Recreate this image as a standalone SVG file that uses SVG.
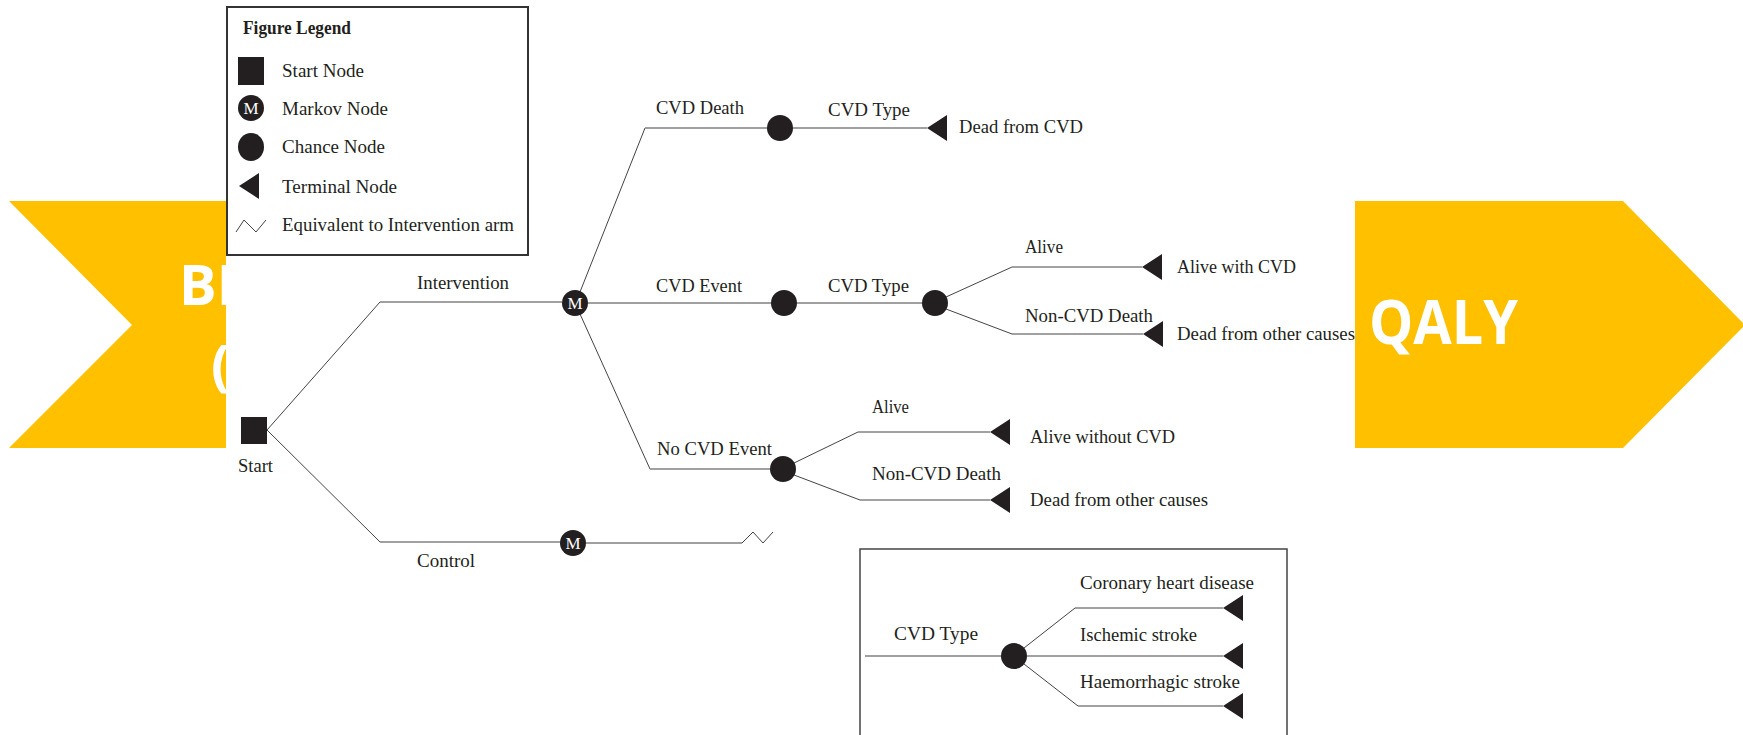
<svg xmlns="http://www.w3.org/2000/svg" width="1743" height="735" viewBox="0 0 1743 735">
<style>
.t{font-family:"Liberation Serif","DejaVu Serif",serif;font-size:19px;fill:#231f20}
.b{font-weight:bold}
.big{font-family:"Open Sans","Liberation Sans",sans-serif;font-weight:bold;fill:#fff}
.h{fill:none;stroke:#a0a0a0;stroke-width:1.8}
.d{fill:none;stroke:#444;stroke-width:1}
.k{fill:#231f20}
.m{font-family:"Liberation Serif",serif;font-size:17px;fill:#fff;text-anchor:middle}
</style>
<defs>
<clipPath id="lc"><rect x="0" y="0" width="226" height="735"/></clipPath>
<path id="tri" d="M0,0 L20,-13 L20,13 Z"/>
</defs>
<rect width="1743" height="735" fill="#fff"/>
<g id="left-arrow">
<polygon points="9,201 226,201 226,448 9,448 132,325" fill="#FFC000"/>
<g clip-path="url(#lc)">
<text class="big" x="179" y="305" font-size="56">BI</text>
<text class="big" x="211" y="385" font-size="56">(</text>
</g>
</g>
<g id="connectors">
<polyline class="d" points="380,302 267,430 380,542"/>
<line class="h" x1="380" y1="302" x2="562" y2="302"/>
<line class="h" x1="380" y1="542" x2="562" y2="542"/>
<polyline class="d" points="580,292 645,128"/>
<line class="h" x1="645" y1="128" x2="927" y2="128"/>
<line class="h" x1="588" y1="303" x2="922" y2="303"/>
<polyline class="d" points="580,314 650,469"/>
<line class="h" x1="650" y1="469" x2="783" y2="469"/>
<polyline class="d" points="1142,267 1012,267 946,297"/>
<polyline class="d" points="946,309 1012,334 1143,334"/>
<polyline class="d" points="990,432 858,432 794,463"/>
<polyline class="d" points="794,475 860,500 990,500"/>
<line class="h" x1="586" y1="543" x2="742" y2="543"/>
<polyline class="d" points="742,543 753,532 763,543 773,532"/>
<line class="h" x1="865" y1="656" x2="1003" y2="656"/>
<polyline class="d" points="1024,648 1075,608 1223,608"/>
<line class="d" x1="1026" y1="656" x2="1223" y2="656"/>
<polyline class="d" points="1024,664 1078,706 1223,706"/>
</g>
<g id="legend">
<rect x="227" y="7" width="301" height="248" fill="#fff" stroke="#333" stroke-width="2"/>
<text class="t b" x="243" y="34" textLength="108" lengthAdjust="spacingAndGlyphs">Figure Legend</text>
<rect class="k" x="238" y="57" width="26" height="28"/>
<text class="t" x="282" y="77" textLength="82" lengthAdjust="spacingAndGlyphs">Start Node</text>
<circle class="k" cx="251" cy="108" r="13"/>
<text class="m" x="251" y="114">M</text>
<text class="t" x="282" y="115" textLength="106" lengthAdjust="spacingAndGlyphs">Markov Node</text>
<ellipse class="k" cx="251" cy="147" rx="13" ry="14"/>
<text class="t" x="282" y="153" textLength="103" lengthAdjust="spacingAndGlyphs">Chance Node</text>
<use href="#tri" x="239" y="186" class="k"/>
<text class="t" x="282" y="193" textLength="115" lengthAdjust="spacingAndGlyphs">Terminal Node</text>
<polyline class="d" points="236,232 244,220 256,232 266,220"/>
<text class="t" x="282" y="231" textLength="232" lengthAdjust="spacingAndGlyphs">Equivalent to Intervention arm</text>
</g>
<g id="start">
<rect class="k" x="241" y="417" width="26" height="27"/>
<text class="t" x="238" y="472" textLength="35" lengthAdjust="spacingAndGlyphs">Start</text>
</g>
<g id="intervention">
<text class="t" x="417" y="289" textLength="92" lengthAdjust="spacingAndGlyphs">Intervention</text>
<circle class="k" cx="575" cy="303" r="13"/>
<text class="m" x="575" y="309">M</text>
</g>
<g id="control">
<text class="t" x="417" y="567" textLength="58" lengthAdjust="spacingAndGlyphs">Control</text>
<circle class="k" cx="573" cy="543" r="13"/>
<text class="m" x="573" y="549">M</text>
</g>
<g id="cvd-death">
<text class="t" x="656" y="114" textLength="88" lengthAdjust="spacingAndGlyphs">CVD Death</text>
<circle class="k" cx="780" cy="128" r="13"/>
<text class="t" x="828" y="116" textLength="82" lengthAdjust="spacingAndGlyphs">CVD Type</text>
<use href="#tri" x="927" y="128" class="k"/>
<text class="t" x="959" y="133" textLength="124" lengthAdjust="spacingAndGlyphs">Dead from CVD</text>
</g>
<g id="cvd-event">
<text class="t" x="656" y="292" textLength="86" lengthAdjust="spacingAndGlyphs">CVD Event</text>
<circle class="k" cx="784" cy="303" r="13"/>
<text class="t" x="828" y="292" textLength="81" lengthAdjust="spacingAndGlyphs">CVD Type</text>
<circle class="k" cx="935" cy="303" r="13"/>
<text class="t" x="1025" y="253" textLength="38" lengthAdjust="spacingAndGlyphs">Alive</text>
<use href="#tri" x="1142" y="267" class="k"/>
<text class="t" x="1177" y="273" textLength="119" lengthAdjust="spacingAndGlyphs">Alive with CVD</text>
<text class="t" x="1025" y="322" textLength="128" lengthAdjust="spacingAndGlyphs">Non-CVD Death</text>
<use href="#tri" x="1143" y="334" class="k"/>
<text class="t" x="1177" y="340" textLength="178" lengthAdjust="spacingAndGlyphs">Dead from other causes</text>
</g>
<g id="no-cvd-event">
<text class="t" x="657" y="455" textLength="115" lengthAdjust="spacingAndGlyphs">No CVD Event</text>
<circle class="k" cx="783" cy="469" r="13"/>
<text class="t" x="872" y="413" textLength="37" lengthAdjust="spacingAndGlyphs">Alive</text>
<use href="#tri" x="990" y="432" class="k"/>
<text class="t" x="1030" y="443" textLength="145" lengthAdjust="spacingAndGlyphs">Alive without CVD</text>
<text class="t" x="872" y="480" textLength="129" lengthAdjust="spacingAndGlyphs">Non-CVD Death</text>
<use href="#tri" x="990" y="500" class="k"/>
<text class="t" x="1030" y="506" textLength="178" lengthAdjust="spacingAndGlyphs">Dead from other causes</text>
</g>
<g id="cvd-type-box">
<rect x="860" y="549" width="427" height="200" fill="none" stroke="#444" stroke-width="1.5"/>
<text class="t" x="894" y="640" textLength="84" lengthAdjust="spacingAndGlyphs">CVD Type</text>
<circle class="k" cx="1014" cy="656" r="13"/>
<text class="t" x="1080" y="589" textLength="174" lengthAdjust="spacingAndGlyphs">Coronary heart disease</text>
<use href="#tri" x="1223" y="608" class="k"/>
<text class="t" x="1080" y="641" textLength="117" lengthAdjust="spacingAndGlyphs">Ischemic stroke</text>
<use href="#tri" x="1223" y="656" class="k"/>
<text class="t" x="1080" y="688" textLength="160" lengthAdjust="spacingAndGlyphs">Haemorrhagic stroke</text>
<use href="#tri" x="1223" y="706" class="k"/>
</g>
<g id="right-arrow">
<polygon points="1355,201 1623,201 1745,325 1623,448 1355,448" fill="#FFC000"/>
<text class="big" x="1369" y="344" font-size="60" textLength="149" lengthAdjust="spacingAndGlyphs">QALY</text>
</g>
</svg>
